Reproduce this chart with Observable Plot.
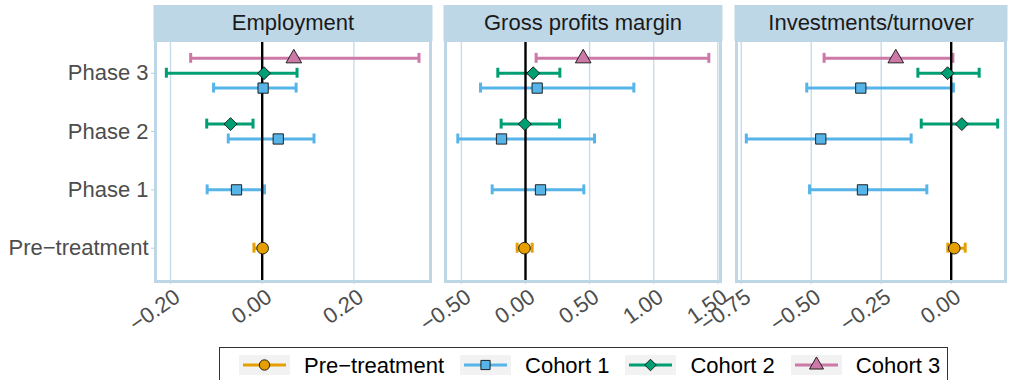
<!DOCTYPE html>
<html>
<head>
<meta charset="utf-8">
<script src="https://cdn.jsdelivr.net/npm/d3@7"></script>
<script src="https://cdn.jsdelivr.net/npm/@observablehq/plot@0.6"></script>
<style>
  body { margin: 0; background: #fff; font-family: "Liberation Sans", Arial, sans-serif; }
  #root { position: relative; width: 1009px; height: 380px; overflow: hidden; background: #fff; }
  .panel { position: absolute; top: 0; }
  .panel svg { overflow: visible; }
  #legend { position: absolute; left: 219px; top: 347px; width: 729px; height: 45px; box-sizing: border-box;
            border: 1.5px solid #333; display: flex; align-items: flex-start; padding: 7px 0 0 19px; }
  .lk { display: block; flex: none; }
  .lt { font-size: 22px; color: #000; margin: 0 16px 0 14px; line-height: 21px; white-space: nowrap; }
</style>
</head>
<body>
<div id="root"></div>
<script>
// ---- data ----
const outcomes = ["Employment", "Gross profits margin", "Investments/turnover"];
const phases = ["Pre\u2212treatment", "Phase 1", "Phase 2", "Phase 3"];
const seriesNames = ["Pre\u2212treatment", "Cohort 1", "Cohort 2", "Cohort 3"];
const seriesColors = ["#E69F00", "#56B4E9", "#009E73", "#CC79A7"];

// one row per (phase, series) estimate
const rowPhase  = ["Pre\u2212treatment", "Phase 1", "Phase 2", "Phase 2", "Phase 3", "Phase 3", "Phase 3"];
const rowSeries = ["Pre\u2212treatment", "Cohort 1", "Cohort 1", "Cohort 2", "Cohort 1", "Cohort 2", "Cohort 3"];

const employmentEst = [0.001, -0.056, 0.035, -0.069, 0.002, 0.004, 0.069];
const employmentLow = [-0.018, -0.120, -0.074, -0.121, -0.106, -0.209, -0.156];
const employmentHigh = [0.005, 0.005, 0.113, -0.020, 0.074, 0.076, 0.342];

const grossEst = [-0.008, 0.117, -0.187, -0.005, 0.091, 0.060, 0.450];
const grossLow = [-0.065, -0.260, -0.528, -0.190, -0.351, -0.216, 0.083];
const grossHigh = [0.052, 0.455, 0.538, 0.265, 0.845, 0.268, 1.430];

const investEst = [0.011, -0.317, -0.466, 0.038, -0.323, -0.013, -0.198];
const investLow = [-0.012, -0.506, -0.732, -0.107, -0.516, -0.119, -0.454];
const investHigh = [0.050, -0.087, -0.143, 0.166, 0.008, 0.100, 0.006];

const xTicksEmployment = [-0.2, 0, 0.2];
const xTicksGross = [-0.5, 0, 0.5, 1, 1.5];
const xTicksInvest = [-0.75, -0.5, -0.25, 0];

const xDomainEmployment = [-0.2327, 0.3671];
const xDomainGross = [-0.624, 1.521];
const xDomainInvest = [-0.767, 0.194];

// ---- layout / style ----
const stripColor = "#bed7e7";
const gridColor = "#c8dbe9";
const textGrey = "#4d4d4d";
const dodgeStep = 0.255;
const H = 340, MT = 40, MB = 59;

function buildRows(est, low, high) {
  const rows = est.map((e, i) => ({
    phase: rowPhase[i], series: rowSeries[i], est: e, lo: low[i], hi: high[i]
  }));
  // dodge within each phase: higher cohort on top
  for (const ph of phases) {
    const g = rows.filter(r => r.phase === ph)
      .sort((a, b) => seriesNames.indexOf(b.series) - seriesNames.indexOf(a.series));
    const n = g.length;
    g.forEach((r, k) => { r.yy = phases.indexOf(ph) + ((n - 1) / 2 - k) * dodgeStep; });
  }
  return rows;
}

const panelsCfg = [
  {title: outcomes[0], est: employmentEst, low: employmentLow, high: employmentHigh, ticks: xTicksEmployment, domain: xDomainEmployment,
   left: 0, width: 437, ml: 155, mr: 7, yaxis: true},
  {title: outcomes[1], est: grossEst, low: grossLow, high: grossHigh, ticks: xTicksGross, domain: xDomainGross,
   left: 437, width: 290, ml: 8, mr: 7, yaxis: false},
  {title: outcomes[2], est: investEst, low: investLow, high: investHigh, ticks: xTicksInvest, domain: xDomainInvest,
   left: 727, width: 282, ml: 9, mr: 4, yaxis: false}
];

const root = document.getElementById("root");
const fmt = d3.format(".2f");
const symbols = [d3.symbolCircle, d3.symbolSquare, d3.symbolDiamond2, d3.symbolTriangle];

for (const cfg of panelsCfg) {
  const data = buildRows(cfg.est, cfg.low, cfg.high);
  const plotH = H - MT - MB;
  const marks = [
    Plot.frame({fill: stripColor, stroke: stripColor, strokeWidth: 1, insetTop: -35, insetBottom: plotH, insetLeft: -1.5, insetRight: -1.5}),
    Plot.text([cfg.title], {text: d => d, frameAnchor: "top", lineAnchor: "middle", dy: -18, fontSize: 22, fill: "#1a1a1a"}),
    Plot.gridX({ticks: cfg.ticks, stroke: gridColor, strokeOpacity: 1, strokeWidth: 1.4}),
    Plot.axisX({ticks: cfg.ticks, tickFormat: null, text: null, tickSize: 3, stroke: "#b8cfe0", label: null}),
    Plot.axisX({ticks: cfg.ticks, tickFormat: fmt, tickRotate: -35, fontSize: 22, tickSize: 0, tickPadding: 6,
                dx: 7, dy: 7, fill: textGrey, label: null}),
    Plot.ruleY(data, {y: "yy", x1: "lo", x2: "hi", stroke: "series", strokeWidth: 3}),
    Plot.ruleX(data, {x: "lo", y1: d => d.yy - 0.085, y2: d => d.yy + 0.085, stroke: "series", strokeWidth: 3}),
    Plot.ruleX(data, {x: "hi", y1: d => d.yy - 0.085, y2: d => d.yy + 0.085, stroke: "series", strokeWidth: 3}),
    Plot.ruleX([0], {stroke: "#000", strokeWidth: 2.4}),
    Plot.dot(data, {x: "est", y: "yy", fill: "series", symbol: "series", r: 5.8, stroke: "#111", strokeWidth: 0.9}),
    Plot.frame({stroke: stripColor, strokeWidth: 3})
  ];
  if (cfg.yaxis) {
    marks.push(Plot.axisY({ticks: [0, 1, 2, 3], tickFormat: i => phases[i], fontSize: 22, tickSize: 4, tickPadding: 3,
                           stroke: "#b8cfe0", fill: textGrey, label: null}));
  }
  const chart = Plot.plot({
    width: cfg.width, height: H,
    marginLeft: cfg.ml, marginRight: cfg.mr, marginTop: MT, marginBottom: MB,
    style: {background: "transparent", overflow: "visible", fontFamily: "'Liberation Sans', Arial, sans-serif"},
    x: {domain: cfg.domain, label: null},
    y: {domain: [-0.571, 3.561], label: null, axis: cfg.yaxis ? undefined : null},
    color: {domain: seriesNames, range: seriesColors},
    symbol: {domain: seriesNames, range: symbols},
    marks
  });
  const wrap = document.createElement("div");
  wrap.className = "panel";
  wrap.style.left = cfg.left + "px";
  wrap.appendChild(chart);
  root.appendChild(wrap);
}

// ---- legend ----
const legend = document.createElement("div");
legend.id = "legend";
seriesNames.forEach((name, i) => {
  const svg = d3.create("svg").attr("class", "lk").attr("width", 51).attr("height", 20);
  svg.append("rect").attr("width", 51).attr("height", 20).attr("fill", "#f2f2f2");
  svg.append("line").attr("x1", 4).attr("x2", 47).attr("y1", 10).attr("y2", 10)
    .attr("stroke", seriesColors[i]).attr("stroke-width", 3);
  svg.append("path").attr("transform", "translate(25.5,10)")
    .attr("d", d3.symbol(symbols[i], Math.PI * 5.2 * 5.2)())
    .attr("fill", seriesColors[i]).attr("stroke", "#111").attr("stroke-width", 0.9);
  legend.appendChild(svg.node());
  const t = document.createElement("span");
  t.className = "lt";
  t.textContent = name;
  legend.appendChild(t);
});
root.appendChild(legend);
</script>
</body>
</html>
